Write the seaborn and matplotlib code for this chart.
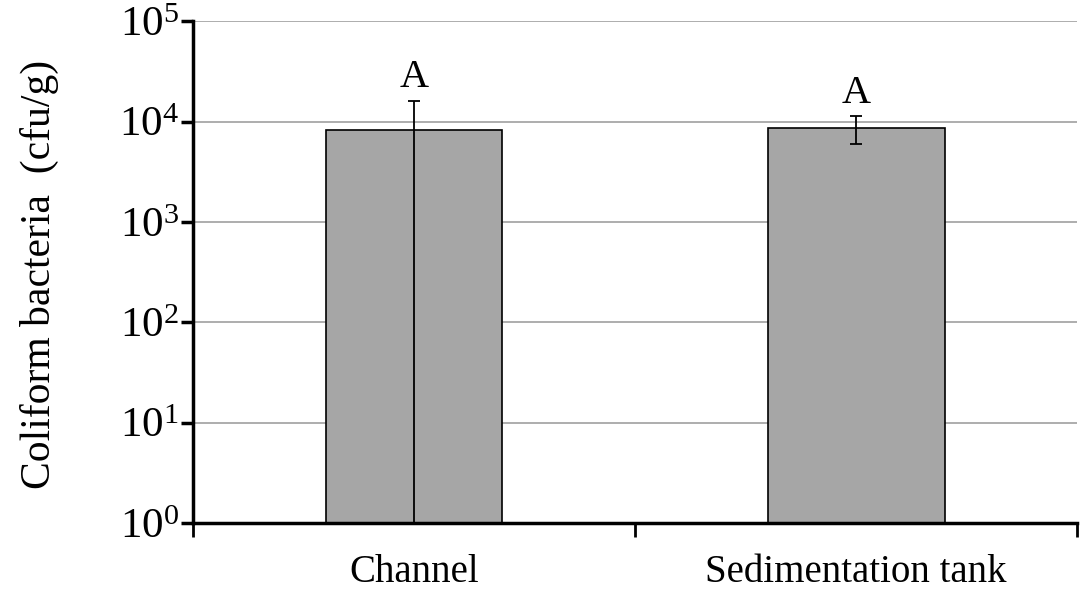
import numpy as np
import pandas as pd
import matplotlib
matplotlib.use("Agg")
import matplotlib.pyplot as plt
import seaborn as sns
from matplotlib.ticker import FixedLocator, LogFormatterMathtext, NullLocator

sites = ["Channel", "Sedimentation tank"]
coliform = [8300, 8700]
err_low = [8299, 2700]
err_high = [7900, 2600]
letters = ["A", "A"]


def main():
    sns.set_theme(style="white")
    plt.rcParams["font.family"] = ["Liberation Serif", "DejaVu Serif"]
    plt.rcParams["mathtext.fontset"] = "custom"
    plt.rcParams["mathtext.rm"] = "Liberation Serif"
    plt.rcParams["mathtext.it"] = "Liberation Serif:italic"
    plt.rcParams["text.color"] = "black"
    plt.rcParams["xtick.color"] = "black"
    plt.rcParams["ytick.color"] = "black"
    plt.rcParams["axes.labelcolor"] = "black"

    df = pd.DataFrame({"Site": sites, "Coliform": coliform})

    fig = plt.figure(figsize=(10.81, 6.05), dpi=100)
    ax = fig.add_axes([0.1785, 0.1355, 0.818, 0.8295])

    sns.barplot(data=df, x="Site", y="Coliform", order=sites, color="#a6a6a6",
                saturation=1, width=0.4, edgecolor="black", linewidth=1.2,
                errorbar=None, ax=ax, zorder=2)
    ax.set_yscale("log")
    ax.set_ylim(1, 1e5)
    ax.set_xlim(-0.5, 1.5)

    xs = np.arange(len(sites))
    ax.errorbar(xs, coliform, yerr=[err_low, err_high], fmt="none",
                ecolor="black", elinewidth=1.3, capsize=4, capthick=1.3, zorder=3)

    for x, c, h, lab in zip(xs, coliform, err_high, letters):
        ax.annotate(lab, (x, c + h), xytext=(0, 3), textcoords="offset points",
                    ha="center", va="bottom", fontsize=29)

    ax.yaxis.set_major_locator(FixedLocator([1, 10, 100, 1000, 1e4, 1e5]))
    ax.yaxis.set_major_formatter(LogFormatterMathtext())
    ax.yaxis.set_minor_locator(NullLocator())
    ax.yaxis.grid(True, color="#a0a0a0", linewidth=1.2, zorder=0)
    ax.set_axisbelow(True)

    ax.set_xticks([-0.5, 0.5, 1.5])
    ax.set_xticklabels(["", "", ""])
    ax.set_xticks(xs, minor=True)
    ax.set_xticklabels(sites, minor=True)
    ax.tick_params(axis="x", which="major", bottom=True, direction="out",
                   length=10, width=2)
    ax.tick_params(axis="x", which="minor", bottom=True, length=0, pad=22, labelsize=28)
    ax.tick_params(axis="y", which="major", left=True, direction="out", length=9,
                   width=2.5, labelsize=31, pad=1)

    for side in ["top", "right"]:
        ax.spines[side].set_visible(False)
    for side in ["left", "bottom"]:
        ax.spines[side].set_color("black")
        ax.spines[side].set_linewidth(2.5)
        ax.spines[side].set_zorder(4)

    ax.set_xlabel("")
    ax.set_ylabel("Coliform bacteria  (cfu/g)", fontsize=30)
    ax.yaxis.set_label_coords(-0.152, 0.495)

    fig.savefig("out.png", dpi=100)
    plt.close(fig)


if __name__ == "__main__":
    main()
